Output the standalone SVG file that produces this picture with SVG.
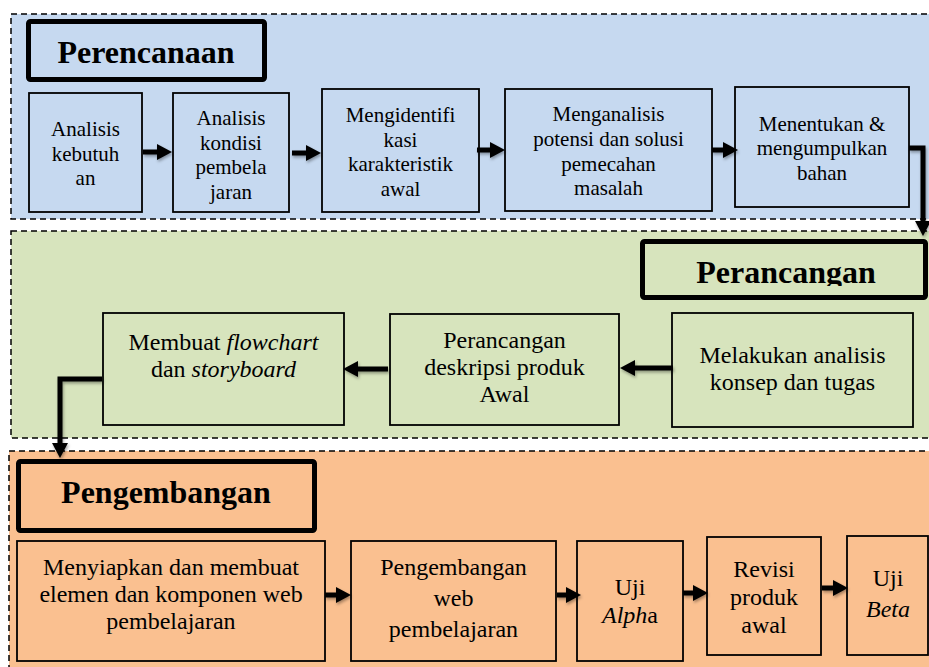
<svg xmlns="http://www.w3.org/2000/svg" width="929" height="667" viewBox="0 0 929 667">
<style>
text{font-family:"Liberation Serif","Times New Roman",serif;fill:#000;text-anchor:middle}
.sec{stroke:#000;stroke-width:1.5;stroke-dasharray:6 4}
.blue{fill:#C6D9F0}.green{fill:#D7E4BD}.orange{fill:#FAC090}
.box{stroke:#000;stroke-width:1.8}
.title{fill:none;stroke:#000;stroke-width:5}
.tt{font-size:32px;font-weight:bold}
.s21{font-size:21px}.s24{font-size:24px}
.arr{fill:none;stroke:#000;stroke-width:5;marker-end:url(#ah)}
.it{font-style:italic}
</style>
<defs>
<marker id="ah" markerUnits="userSpaceOnUse" markerWidth="15" markerHeight="16" viewBox="0 0 15 16" refX="1" refY="8" orient="auto"><path d="M0,0 L15,8 L0,16 z" fill="#000"/></marker>
<filter id="sh" filterUnits="userSpaceOnUse" x="0" y="0" width="929" height="667"><feDropShadow dx="1" dy="2" stdDeviation="1.5" flood-color="#000" flood-opacity="0.35"/></filter>
<clipPath id="cpT"><rect x="640" y="239" width="290" height="47"/></clipPath>
</defs>

<g id="sec-perencanaan"><rect class="sec blue" x="11" y="14" width="940" height="205"/></g>
<g id="sec-perancangan"><rect class="sec green" x="11" y="231" width="940" height="207"/></g>
<g id="sec-pengembangan"><rect class="sec orange" x="9" y="451" width="940" height="240"/></g>

<g id="t-perencanaan"><rect class="title" x="28.5" y="21.5" width="236" height="58" rx="2"/><text class="tt" x="146" y="63">Perencanaan</text></g>
<g id="t-perancangan"><rect class="title" x="642.5" y="241.5" width="283" height="56" rx="2"/><text class="tt" x="786" y="283" clip-path="url(#cpT)">Perancangan</text></g>
<g id="t-pengembangan"><rect class="title" x="18.5" y="461.5" width="296" height="69" rx="2"/><text class="tt" x="166" y="503">Pengembangan</text></g>

<g id="n1"><rect class="box blue" x="29" y="93" width="113" height="119"/><text class="s21"><tspan x="85.5" y="136">Analisis</tspan><tspan x="85.5" y="161">kebutuh</tspan><tspan x="85.5" y="185">an</tspan></text></g>
<g id="n2"><rect class="box blue" x="173" y="93" width="116" height="119"/><text class="s21"><tspan x="231" y="125">Analisis</tspan><tspan x="231" y="150">kondisi</tspan><tspan x="231" y="174">pembela</tspan><tspan x="231" y="199">jaran</tspan></text></g>
<g id="n3"><rect class="box blue" x="322" y="89" width="157" height="123"/><text class="s21"><tspan x="400.5" y="122">Mengidentifi</tspan><tspan x="400.5" y="147">kasi</tspan><tspan x="400.5" y="171">karakteristik</tspan><tspan x="400.5" y="196">awal</tspan></text></g>
<g id="n4"><rect class="box blue" x="505" y="89" width="207" height="122"/><text class="s21"><tspan x="608.5" y="121">Menganalisis</tspan><tspan x="608.5" y="146">potensi dan solusi</tspan><tspan x="608.5" y="171">pemecahan</tspan><tspan x="608.5" y="195">masalah</tspan></text></g>
<g id="n5"><rect class="box blue" x="735" y="87" width="174" height="120"/><text class="s21"><tspan x="822" y="131">Menentukan &amp;</tspan><tspan x="822" y="155">mengumpulkan</tspan><tspan x="822" y="180">bahan</tspan></text></g>

<g id="n6"><rect class="box green" x="672" y="313" width="241" height="114"/><text class="s24"><tspan x="792.5" y="363">Melakukan analisis</tspan><tspan x="792.5" y="390">konsep dan tugas</tspan></text></g>
<g id="n7"><rect class="box green" x="390" y="314" width="229" height="111"/><text class="s24"><tspan x="504.5" y="348">Perancangan</tspan><tspan x="504.5" y="375">deskripsi produk</tspan><tspan x="504.5" y="402">Awal</tspan></text></g>
<g id="n8"><rect class="box green" x="103" y="313" width="241" height="112"/><text class="s24"><tspan x="223.5" y="350">Membuat <tspan class="it">flowchart</tspan></tspan><tspan x="223.5" y="377">dan <tspan class="it">storyboard</tspan></tspan></text></g>

<g id="n9"><rect class="box orange" x="17" y="541" width="308" height="120"/><text class="s24"><tspan x="171" y="575">Menyiapkan dan membuat</tspan><tspan x="171" y="602">elemen dan komponen web</tspan><tspan x="171" y="629">pembelajaran</tspan></text></g>
<g id="n10"><rect class="box orange" x="351" y="541" width="205" height="120"/><text class="s24"><tspan x="453.5" y="575">Pengembangan</tspan><tspan x="453.5" y="606">web</tspan><tspan x="453.5" y="637">pembelajaran</tspan></text></g>
<g id="n11"><rect class="box orange" x="577" y="541" width="106" height="120"/><text class="s24"><tspan x="630" y="595">Uji</tspan><tspan x="630" y="623"><tspan class="it">Alph</tspan>a</tspan></text></g>
<g id="n12"><rect class="box orange" x="707" y="537" width="114" height="118"/><text class="s24"><tspan x="764" y="577">Revisi</tspan><tspan x="764" y="605">produk</tspan><tspan x="764" y="633">awal</tspan></text></g>
<g id="n13"><rect class="box orange" x="847" y="536" width="81" height="119"/><text class="s24"><tspan x="888" y="586">Uji</tspan><tspan x="888" y="617" class="it">Beta</tspan></text></g>

<g id="connectors" filter="url(#sh)">
<path class="arr" d="M143,152 H158"/>
<path class="arr" d="M292,153 H307"/>
<path class="arr" d="M477,150 H491"/>
<path class="arr" d="M712,150 H724"/>
<path class="arr" d="M909,148 H923 V222"/>
<path class="arr" d="M673,368 H634"/>
<path class="arr" d="M388,369 H357"/>
<path class="arr" d="M102,379 H60 V444"/>
<path class="arr" d="M325,595 H337"/>
<path class="arr" d="M557,595 H567"/>
<path class="arr" d="M683,593 H694"/>
<path class="arr" d="M822,588 H834"/>
</g>
</svg>
